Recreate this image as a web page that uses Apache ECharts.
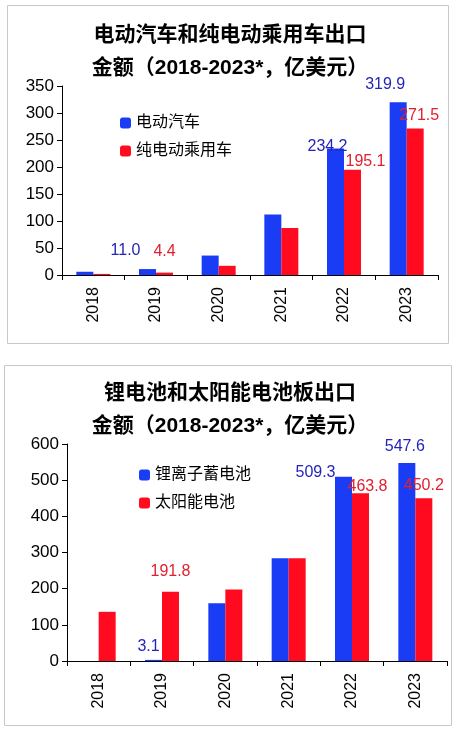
<!DOCTYPE html>
<html>
<head>
<meta charset="utf-8">
<script src="https://cdn.jsdelivr.net/npm/echarts@6/dist/echarts.min.js"></script>
<style>html,body{margin:0;padding:0;background:#fff}#c{width:460px;height:732px}</style>
</head>
<body>
<div id="c"></div>
<script>
var years = ['2018', '2019', '2020', '2021', '2022', '2023'];
var evValues = [6, 11.0, 36, 112, 234.2, 319.9];
var bevValues = [2, 4.4, 17, 87, 195.1, 271.5];
var liValues = [0, 3.1, 160, 284, 509.3, 547.6];
var solarValues = [136, 191.8, 198, 284, 463.8, 450.2];
var topTicks = [0, 50, 100, 150, 200, 250, 300, 350];
var bottomTicks = [0, 100, 200, 300, 400, 500, 600];

var BLUE = '#1a3cf5', RED = '#ff0a1e';
var BLUE_T = '#2424b8', RED_T = '#e0202e';
var font = '"Liberation Sans", "Noto Sans CJK SC", sans-serif';

// which bars carry a value label, and how far to nudge it
function withLabels(values, color, offsets) {
    return values.map(function (v, i) {
        if (!offsets[i]) return v;
        return {
            value: v,
            label: {show: true, position: 'top', offset: offsets[i], color: color,
                fontSize: 16, fontFamily: font, formatter: function (p) { return p.value.toFixed(1); }}
        };
    });
}

var axisX = function (g) {
    return {
        type: 'category', gridIndex: g, data: years,
        axisLine: {lineStyle: {color: '#000', width: 1}},
        axisTick: {show: true, length: 5, lineStyle: {color: '#000'}},
        axisLabel: {rotate: 90, color: '#000', fontSize: 16, fontFamily: font, margin: 12}
    };
};
var axisY = function (g, max, step) {
    return {
        type: 'value', gridIndex: g, min: 0, max: max, interval: step,
        axisLine: {show: true, lineStyle: {color: '#000'}},
        axisTick: {show: true, length: 5, lineStyle: {color: '#000'}},
        splitLine: {show: false},
        axisLabel: {color: '#000', fontSize: 17, fontFamily: font, margin: 8}
    };
};

var chart = echarts.init(document.getElementById('c'));
chart.setOption({
    animation: false,
    graphic: [
        {type: 'rect', shape: {x: 7.5, y: 5.5, width: 441, height: 338}, style: {fill: 'none', stroke: '#c8c8c8', lineWidth: 1}},
        {type: 'rect', shape: {x: 4.5, y: 365.5, width: 447, height: 360}, style: {fill: 'none', stroke: '#c8c8c8', lineWidth: 1}}
    ],
    title: [
        {text: '电动汽车和纯电动乘用车出口\n金额（2018-2023*，亿美元）', left: 'center', top: 14,
            textStyle: {fontSize: 21, fontWeight: 'bold', lineHeight: 33, color: '#000', fontFamily: font}},
        {text: '锂电池和太阳能电池板出口\n金额（2018-2023*，亿美元）', left: 'center', top: 372,
            textStyle: {fontSize: 21, fontWeight: 'bold', lineHeight: 33, color: '#000', fontFamily: font}}
    ],
    legend: [
        {data: ['电动汽车', '纯电动乘用车'], orient: 'vertical', left: 115, top: 110, itemWidth: 11, itemHeight: 11,
            itemGap: 12, textStyle: {fontSize: 16, color: '#000', fontFamily: font}},
        {data: ['锂离子蓄电池', '太阳能电池'], orient: 'vertical', left: 134, top: 462, itemWidth: 11, itemHeight: 11,
            itemGap: 12, textStyle: {fontSize: 16, color: '#000', fontFamily: font}}
    ],
    grid: [
        {left: 62, right: 22, top: 86, bottom: 457},
        {left: 67, right: 13, top: 444, bottom: 71}
    ],
    xAxis: [axisX(0), axisX(1)],
    yAxis: [axisY(0, 350, 50), axisY(1, 600, 100)],
    series: [
        {name: '电动汽车', type: 'bar', xAxisIndex: 0, yAxisIndex: 0, barWidth: 17, barGap: '0%',
            itemStyle: {color: BLUE},
            data: withLabels(evValues, BLUE_T, [null, [-22, -5], null, null, [-8, 11], [-13, -5]])},
        {name: '纯电动乘用车', type: 'bar', xAxisIndex: 0, yAxisIndex: 0, barWidth: 17, barGap: '0%',
            itemStyle: {color: RED},
            data: withLabels(bevValues, RED_T, [null, [0, -8], null, null, [13, 5], [4, 0]])},
        {name: '锂离子蓄电池', type: 'bar', xAxisIndex: 1, yAxisIndex: 1, barWidth: 17, barGap: '0%',
            itemStyle: {color: BLUE},
            data: withLabels(liValues, BLUE_T, [null, [-5, 0], null, null, [-28, 9], [-2, -3]])},
        {name: '太阳能电池', type: 'bar', xAxisIndex: 1, yAxisIndex: 1, barWidth: 17, barGap: '0%',
            itemStyle: {color: RED},
            data: withLabels(solarValues, RED_T, [null, [0, -7], null, null, [7, 6], [0, 0]])}
    ]
});
</script>
</body>
</html>
